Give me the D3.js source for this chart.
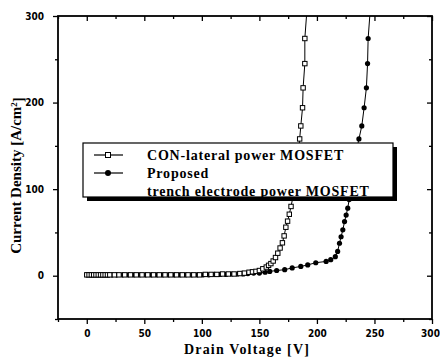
<!DOCTYPE html>
<html>
<head>
<meta charset="utf-8">
<script src="https://cdn.jsdelivr.net/npm/d3@7/dist/d3.min.js"></script>
<style>
  body { margin: 0; background: #fff; }
  svg { display: block; }
</style>
</head>
<body>
<div id="chart"></div>
<script>
let svg_width = 440
let svg_height = 362

// CON-lateral power MOSFET (open squares)
let conVoltage = [0,2,4,6,8,10,12,14,16,18,20,24,28,33,38,43,48,53,58,63,68,73,78,83,88,93,98,103,108,113,118,123,128,133,137,141,144,147,150,153,156,158,160,162,164,166,168,170,171.5,173,174.5,176,177.5,179,180.5,182,183,184,185,186,187.5,188,189.5,189.5,191.5]
let conCurrent = [1,1,1,1,1,1,1,1,1,1,1,1,1,1,1,1,1,1,1,1,1,1,1,1,1,1,1,1.5,1.5,1.5,2,2,2,2.5,3,4,4.5,5,6,8,10,12,14,17,21,26,32,38,46,56,63,71,80,90,102,115,128,142,158,173,194,217,245,274,310]

// Proposed trench electrode power MOSFET (filled circles)
let propVoltage = [0,3,5,7,9,11,13,15,17,19,22,26,31,36,41,46,51,56,61,66,71,76,81,86,91,96,101,106,111,116,121,126,131,136,140,145,150,155,159,165,172,178.5,186,192,199,208,212,216,218,219.6,221,222.5,224,225.4,226.8,228,229.5,231,233,234.5,236.5,239,241,243,244,244.5,246.5]
let propCurrent = [1,1,1,1,1,1,1,1,1,1,1,1,1,1,1,1,1,1,1,1,1,1,1,1,1,1,1,1,1.5,1.5,1.5,2,2,2,2.5,3,3,4,5,6,7,9,10.7,12.5,15,16.5,18.5,22,28,37.5,45,53,62.5,70,78,88,100,115,130,145,158,173,194,217,245,274,310]

let xMajor = [0,50,100,150,200,250,300]
let xMinor = [-25,25,75,125,175,225,275]
let yMajor = [0,100,200,300]
let yMinor = [-50,50,150,250]

let legendLabels = ["CON-lateral power MOSFET", "Proposed", "trench electrode power MOSFET"]

let margin = {left: 58, right: 8, top: 16, bottom: 43}
let w = svg_width - margin.left - margin.right
let h = svg_height - margin.top - margin.bottom

let svg = d3.select("#chart")
    .append("svg")
    .attr("width", svg_width)
    .attr("height", svg_height)

let g = svg.append("g")
    .attr("transform", `translate(${margin.left},${margin.top})`)

let x = d3.scaleLinear().domain([-25, 300]).range([0, w])
let y = d3.scaleLinear().domain([-50, 300]).range([h, 0])

let tickFont = "'Liberation Sans Narrow', 'DejaVu Sans Condensed', Arial, sans-serif"
let titleFont = "'Liberation Serif', 'DejaVu Serif', serif"

// ticks: bottom/left outward, top/right inward
function addTicks(axisFn, scale, vals, size, transform, labels) {
    let a = g.append("g")
        .attr("transform", transform)
        .call(axisFn(scale).tickValues(vals).tickSize(size).tickSizeOuter(0)
            .tickFormat(labels ? d3.format("d") : ""))
    a.select(".domain").remove()
    a.selectAll("line").attr("stroke", "#000").attr("stroke-width", 1.3)
    a.selectAll("text")
        .style("font-family", tickFont)
        .style("font-weight", "bold")
        .style("font-size", "10px")
        .attr("fill", "#000")
    return a
}

let bx = addTicks(d3.axisBottom, x, xMajor, 5, `translate(0,${h})`, true)
bx.selectAll("text").attr("dy", "0.95em")
    .attr("dx", d => d === 300 ? -2 : 0)
addTicks(d3.axisBottom, x, xMinor, 3, `translate(0,${h})`, false)
let ly = addTicks(d3.axisLeft, y, yMajor, 5, "translate(0,0)", true)
ly.selectAll("text").attr("dx", "-0.6em")
addTicks(d3.axisLeft, y, yMinor, 3, "translate(0,0)", false)
addTicks(d3.axisTop, x, xMajor, -5, "translate(0,0)", false)
addTicks(d3.axisTop, x, xMinor, -3, "translate(0,0)", false)
addTicks(d3.axisRight, y, yMajor, -5, `translate(${w},0)`, false)
addTicks(d3.axisRight, y, yMinor, -3, `translate(${w},0)`, false)

// clip for data
svg.append("defs").append("clipPath").attr("id", "clip")
    .append("rect").attr("width", w).attr("height", h)

let plot = g.append("g").attr("clip-path", "url(#clip)")

let conData = conVoltage.map((v, i) => ({v: v, c: conCurrent[i]}))
let propData = propVoltage.map((v, i) => ({v: v, c: propCurrent[i]}))

let line = d3.line().x(d => x(d.v)).y(d => y(d.c))

plot.append("path").datum(conData)
    .attr("d", line).attr("fill", "none").attr("stroke", "#000").attr("stroke-width", 1)
plot.append("path").datum(propData)
    .attr("d", line).attr("fill", "none").attr("stroke", "#000").attr("stroke-width", 1)

plot.selectAll(".prop").data(propData).enter()
    .append("circle")
    .attr("class", "prop")
    .attr("cx", d => x(d.v))
    .attr("cy", d => y(d.c))
    .attr("r", 2.6)
    .attr("fill", "#000")

plot.selectAll(".con").data(conData).enter()
    .append("rect")
    .attr("class", "con")
    .attr("x", d => x(d.v) - 2.2)
    .attr("y", d => y(d.c) - 2.2)
    .attr("width", 4.4)
    .attr("height", 4.4)
    .attr("fill", "#fff")
    .attr("stroke", "#000")
    .attr("stroke-width", 1)

// frame
g.append("rect")
    .attr("width", w).attr("height", h)
    .attr("fill", "none").attr("stroke", "#000").attr("stroke-width", 1.8)

// legend with drop shadow
let lg = g.append("g").attr("transform", `translate(${83 - margin.left},${143 - margin.top})`)
let lw = 310, lh = 54
lg.append("rect").attr("x", 4).attr("y", 4).attr("width", lw).attr("height", lh).attr("fill", "#000")
lg.append("rect").attr("width", lw).attr("height", lh)
    .attr("fill", "#fff").attr("stroke", "#000").attr("stroke-width", 1.2)

let rows = [12, 30, 48]
lg.append("line").attr("x1", 11).attr("x2", 40).attr("y1", rows[0]).attr("y2", rows[0])
    .attr("stroke", "#000").attr("stroke-width", 1.2)
lg.append("rect").attr("x", 25 - 2.5).attr("y", rows[0] - 2.5).attr("width", 5).attr("height", 5)
    .attr("fill", "#fff").attr("stroke", "#000")
lg.append("line").attr("x1", 11).attr("x2", 40).attr("y1", rows[1]).attr("y2", rows[1])
    .attr("stroke", "#000").attr("stroke-width", 1.2)
lg.append("circle").attr("cx", 25).attr("cy", rows[1]).attr("r", 3).attr("fill", "#000")

lg.selectAll(".ltxt").data(legendLabels).enter()
    .append("text")
    .attr("x", 64)
    .attr("y", (d, i) => rows[i])
    .attr("dy", "0.35em")
    .style("font-family", titleFont)
    .style("font-weight", "bold")
    .style("font-size", "14px")
    .style("letter-spacing", "0.8px")
    .text(d => d)

// axis titles
svg.append("text")
    .attr("x", margin.left + w / 2 + 2)
    .attr("y", 354)
    .style("text-anchor", "middle")
    .style("font-family", titleFont)
    .style("font-weight", "bold")
    .style("font-size", "14px")
    .style("letter-spacing", "1.2px")
    .text("Drain Voltage [V]")

let yt = svg.append("text")
    .attr("transform", `translate(21,${margin.top + h / 2 + 8}) rotate(-90)`)
    .style("text-anchor", "middle")
    .style("font-family", titleFont)
    .style("font-weight", "bold")
    .style("font-size", "15px")
yt.append("tspan").text("Current Density [A/cm")
yt.append("tspan").attr("dy", "-0.4em").style("font-size", "9px").text("2")
yt.append("tspan").attr("dy", "0.4em").text("]")
</script>
</body>
</html>
